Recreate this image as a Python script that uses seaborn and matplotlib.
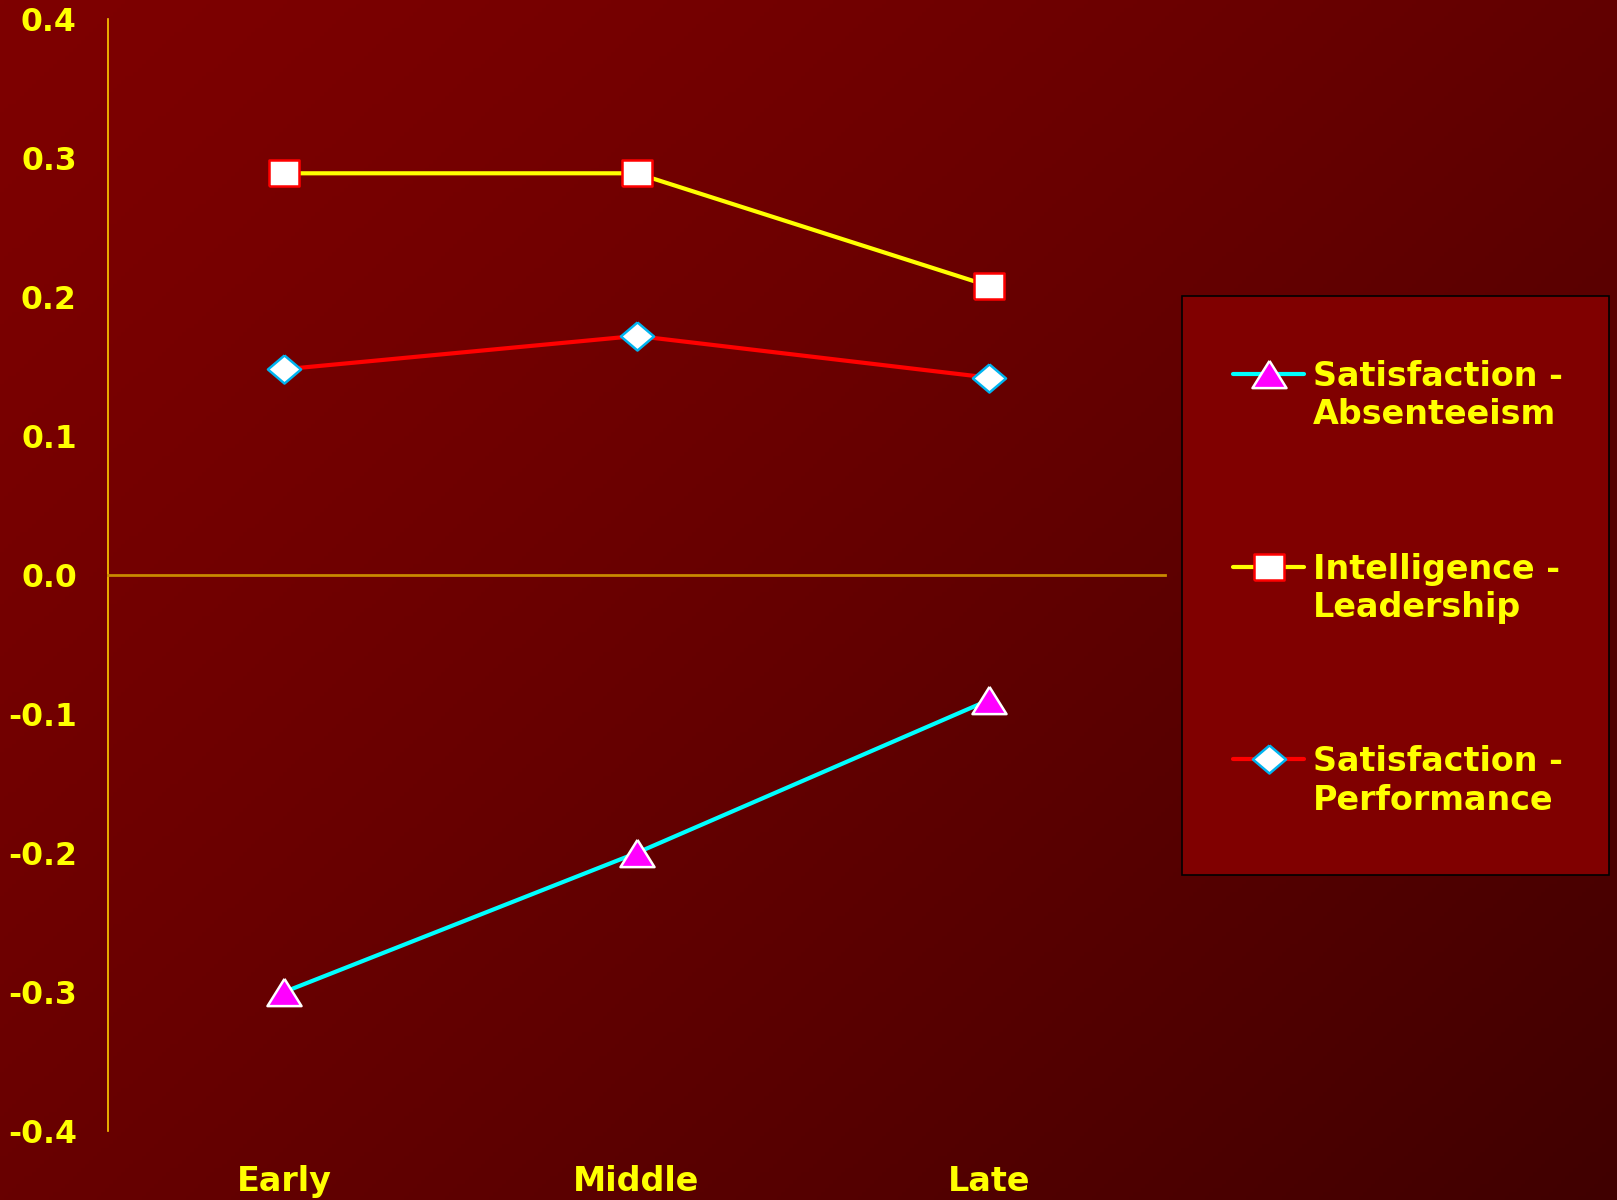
import numpy as np
import pandas as pd
import matplotlib
matplotlib.use("Agg")
import matplotlib.pyplot as plt
from matplotlib.lines import Line2D
from matplotlib.patches import Rectangle
import seaborn as sns

# Career stage on the x axis
stages = ["Early", "Middle", "Late"]

# Correlations for each relationship
sat_absenteeism = [-0.30, -0.20, -0.09]
intel_leadership = [0.289, 0.289, 0.208]
sat_performance = [0.148, 0.172, 0.142]

series_labels = [("Satisfaction -", "Absenteeism"),
                 ("Intelligence -", "Leadership"),
                 ("Satisfaction -", "Performance")]

y_ticks = [0.4, 0.3, 0.2, 0.1, 0.0, -0.1, -0.2, -0.3, -0.4]

sns.set_theme(style="white")
plt.rcParams["font.family"] = ["DejaVu Sans"]
plt.rcParams["font.weight"] = "bold"

YELLOW = "#FFFF00"
W, H = 1617, 1200
fig = plt.figure(figsize=(W / 100, H / 100), dpi=100)

# Diagonal dark-red gradient backdrop
bg = fig.add_axes([0, 0, 1, 1], zorder=-5)
yy, xx = np.mgrid[0:1:300j, 0:1:400j]
t = np.clip(0.55 * xx + 0.45 * yy, 0, 1)
r = (126 - 62 * t ** 1.3) / 255.0
img = np.dstack([r, np.zeros_like(r), np.zeros_like(r)])
bg.imshow(img, aspect="auto", extent=[0, 1, 0, 1], origin="upper")
bg.set_axis_off()

ax = fig.add_axes([108 / W, 1 - 1131 / H, (1165 - 108) / W, (1131 - 19) / H])
ax.set_facecolor("none")

# Marker shapes
tri = [(0, 0.8), (-1, -0.8), (1, -0.8), (0, 0.8)]
rect = [(-1, -0.87), (1, -0.87), (1, 0.87), (-1, 0.87), (-1, -0.87)]
diam = [(0, 0.85), (1, 0), (0, -0.85), (-1, 0), (0, 0.85)]

styles = [
    dict(color="#00FFFF", marker=tri, markersize=24.5, markerfacecolor="#FF00FF",
         markeredgecolor="white", markeredgewidth=1.8),
    dict(color=YELLOW, marker=rect, markersize=22.3, markerfacecolor="white",
         markeredgecolor="#FF0000", markeredgewidth=1.8),
    dict(color="#FF0000", marker=diam, markersize=23.8, markerfacecolor="white",
         markeredgecolor="#00B4F0", markeredgewidth=1.8),
]
data = [sat_absenteeism, intel_leadership, sat_performance]

for vals, st in zip(data, styles):
    df = pd.DataFrame({"stage": stages, "r": vals})
    sns.lineplot(data=df, x="stage", y="r", ax=ax, lw=3.0, legend=False,
                 sort=False, clip_on=False, **st)

ax.set_xlim(-0.5, 2.5)
ax.set_ylim(-0.4, 0.4)
ax.set_yticks(y_ticks)
ax.set_yticklabels([f"{v:.1f}" for v in y_ticks])
ax.set_xlabel("")
ax.set_ylabel("")

for s in ["top", "right"]:
    ax.spines[s].set_visible(False)
ax.spines["left"].set_color("#FFCC00")
ax.spines["left"].set_linewidth(1.2)
ax.spines["bottom"].set_position(("data", 0))
ax.spines["bottom"].set_color("#C88A00")
ax.spines["bottom"].set_linewidth(2)

ax.tick_params(axis="y", direction="out", length=8.5, width=1.2, color="#E09A00",
               pad=14, labelsize=22.7, labelcolor=YELLOW)
for lab in ax.get_yticklabels():
    lab.set_fontweight("bold")

# Stage labels sit below the plotting area (the x spine is moved to zero)
ax.set_xticks([])
for i, s in enumerate(stages):
    ax.text(i, -0.045, s, transform=ax.get_xaxis_transform(), ha="center",
            va="center", fontsize=24, fontweight="bold", color=YELLOW)

# Legend panel
fx = lambda x: x / W
fy = lambda y: 1 - y / H
fig.patches.append(Rectangle((fx(1182), fy(875)), fx(1609) - fx(1182),
                             fy(296) - fy(875), transform=fig.transFigure,
                             facecolor="#800000", edgecolor="black", lw=1.2,
                             zorder=1))
entry_y = [374, 567, 759]
for yv, (l1, l2), st in zip(entry_y, series_labels, styles):
    h = Line2D([fx(1233), fx(1268.5), fx(1304)], [fy(yv)] * 3,
               transform=fig.transFigure, lw=3.0, zorder=3, markevery=[1], **st)
    fig.lines.append(h)
    fig.text(fx(1313), fy(yv + 12), l1, fontsize=24, fontweight="bold",
             color=YELLOW, ha="left", va="baseline", zorder=3)
    fig.text(fx(1313), fy(yv + 50.5), l2, fontsize=24, fontweight="bold",
             color=YELLOW, ha="left", va="baseline", zorder=3)

fig.savefig("out.png", dpi=100)
